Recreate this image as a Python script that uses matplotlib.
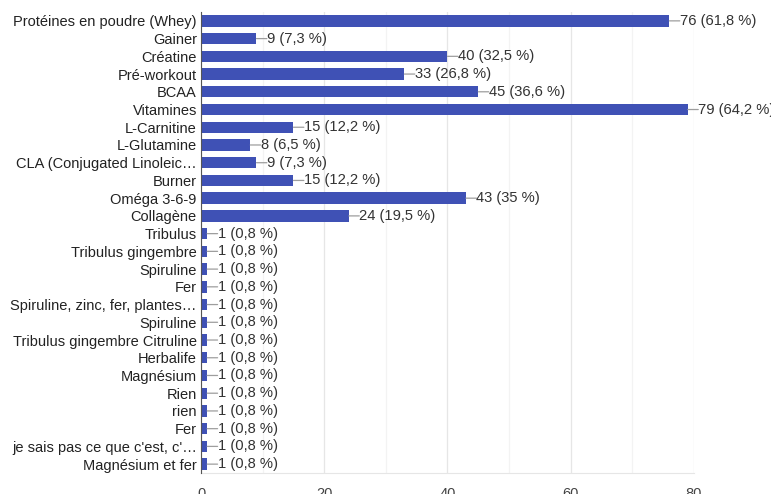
import matplotlib
matplotlib.use("Agg")
import matplotlib.pyplot as plt
from matplotlib.ticker import MultipleLocator

# Réponses au questionnaire : compléments alimentaires consommés
categories = [
    "Protéines en poudre (Whey)", "Gainer", "Créatine", "Pré-workout", "BCAA",
    "Vitamines", "L-Carnitine", "L-Glutamine", "CLA (Conjugated Linoleic…",
    "Burner", "Oméga 3-6-9", "Collagène", "Tribulus", "Tribulus gingembre",
    "Spiruline", "Fer", "Spiruline, zinc, fer, plantes…", "Spiruline",
    "Tribulus gingembre Citruline", "Herbalife", "Magnésium", "Rien", "rien",
    "Fer", "je sais pas ce que c'est, c'…", "Magnésium et fer",
]
counts = [76, 9, 40, 33, 45, 79, 15, 8, 9, 15, 43, 24,
          1, 1, 1, 1, 1, 1, 1, 1, 1, 1, 1, 1, 1, 1]
percents = ["61,8", "7,3", "32,5", "26,8", "36,6", "64,2", "12,2", "6,5", "7,3",
            "12,2", "35", "19,5"] + ["0,8"] * 14

plt.rcParams["font.family"] = ["Liberation Sans", "DejaVu Sans"]

fig = plt.figure(figsize=(7.71, 4.94), dpi=100)
ax = fig.add_axes([201 / 771, 21 / 494, 493 / 771, 461 / 494])

ypos = list(range(len(categories)))
ax.barh(ypos, counts, height=0.64, color="#3f51b5", zorder=3)

for y, c, p in zip(ypos, counts, percents):
    # petit trait gris entre la barre et l'étiquette
    ax.annotate("", xy=(c, y), xytext=(7.5, 0), textcoords="offset points",
                annotation_clip=False,
                arrowprops=dict(arrowstyle="-", color="#9e9e9e", lw=0.9,
                                shrinkA=0, shrinkB=0))
    ax.annotate(f"{c} ({p} %)", xy=(c, y), xytext=(7.5, 0),
                textcoords="offset points", va="center", ha="left",
                fontsize=10.6, color="#333333", annotation_clip=False)

ax.set_xlim(0, 80)
ax.set_ylim(len(categories) - 0.5, -0.5)
ax.set_yticks(ypos)
ax.set_yticklabels(categories, fontsize=10.5, color="#222222")
ax.xaxis.set_major_locator(MultipleLocator(20))
ax.xaxis.set_minor_locator(MultipleLocator(10))
ax.tick_params(axis="x", length=0, which="both", labelsize=10.5,
               labelcolor="#444444", pad=10)
ax.tick_params(axis="y", length=0, pad=3)

ax.grid(axis="x", which="major", color="#e6e6e6", lw=0.9, zorder=0)
ax.grid(axis="x", which="minor", color="#f3f3f3", lw=0.9, zorder=0)
for side in ["top", "right"]:
    ax.spines[side].set_visible(False)
ax.spines["bottom"].set_color("#e6e6e6")
ax.spines["left"].set_color("#555555")
ax.spines["left"].set_zorder(4)

fig.savefig("out.png", dpi=100)
